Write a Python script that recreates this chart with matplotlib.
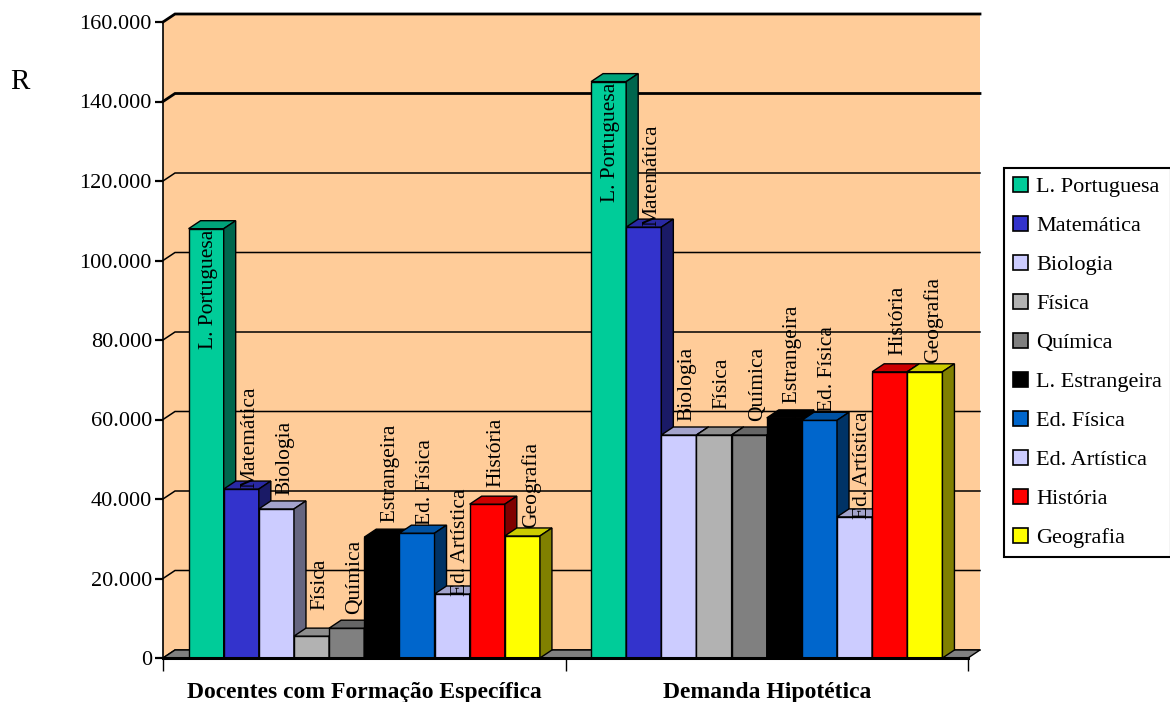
import matplotlib
matplotlib.use("Agg")
import matplotlib.pyplot as plt
from matplotlib.patches import Polygon, Patch
from matplotlib.ticker import FuncFormatter
import numpy as np

plt.rcParams["font.family"] = ["Liberation Serif", "DejaVu Serif"]

groups = ["Docentes com Formação Específica", "Demanda Hipotética"]
subjects = ["L. Portuguesa", "Matemática", "Biologia", "Física", "Química",
            "L. Estrangeira", "Ed. Física", "Ed. Artística", "História", "Geografia"]
docentes = [108000, 42500, 37500, 5500, 7500, 30400, 31400, 16100, 38700, 30700]
demanda = [145000, 108400, 56100, 56100, 56100, 60400, 59800, 35500, 72000, 72000]

colors = ["#00CC99", "#3333CC", "#CCCCFF", "#B2B2B2", "#808080",
          "#000000", "#0066CC", "#CCCCFF", "#FF0000", "#FFFF00"]

WALL = "#FFCC99"
FLOOR = "#808080"


def shade(c, k):
    r, g, b = matplotlib.colors.to_rgb(c)
    return (r * k, g * k, b * k)


W, H = 1170, 702
fig = plt.figure(figsize=(W / 100, H / 100), dpi=100, facecolor="white")
ax = fig.add_axes([163 / W, 44 / H, 805 / W, 636 / H])
ax.patch.set_visible(False)

xlim = (-0.5, 1.5)
ylim = (0, 160000)
ax.set_xlim(*xlim)
ax.set_ylim(*ylim)

# 3D depth offset in data units (12 px right, 8 px up)
px_x = 805 / (xlim[1] - xlim[0])
px_y = 636 / (ylim[1] - ylim[0])
dx = 12 / px_x
dy = 8 / px_y

# walls and floor
x0, x1 = xlim
top = ylim[1]
ax.add_patch(Polygon([(x0 + dx, dy), (x1 + dx, dy), (x1 + dx, top + dy), (x0 + dx, top + dy)],
                     facecolor=WALL, edgecolor="none", zorder=0, clip_on=False))
ax.add_patch(Polygon([(x0, 0), (x0 + dx, dy), (x0 + dx, top + dy), (x0, top)],
                     facecolor=WALL, edgecolor="none", zorder=0, clip_on=False))
for v in range(0, 160001, 20000):
    lw = 2.0 if v >= 140000 else 1.1
    ax.plot([x0, x0 + dx, x1 + dx], [v, v + dy, v + dy], color="black", lw=lw,
            zorder=1, clip_on=False, solid_joinstyle="miter")
ax.add_patch(Polygon([(x0, 0), (x1, 0), (x1 + dx, dy), (x0 + dx, dy)],
                     facecolor=FLOOR, edgecolor="black", lw=1.0, zorder=2, clip_on=False))

# bars
n = len(subjects)
w = 0.0873
z = 3
for g, vals in enumerate([docentes, demanda]):
    for i, (v, c) in enumerate(zip(vals, colors)):
        xl = g + (i - n / 2) * w
        xr = xl + w
        ax.add_patch(Polygon([(xl, 0), (xr, 0), (xr, v), (xl, v)],
                             facecolor=c, edgecolor="black", lw=1.0, zorder=z, clip_on=False))
        ax.add_patch(Polygon([(xl, v), (xr, v), (xr + dx, v + dy), (xl + dx, v + dy)],
                             facecolor=shade(c, 0.8), edgecolor="black", lw=1.0, zorder=z, clip_on=False))
        ax.add_patch(Polygon([(xr, 0), (xr + dx, dy), (xr + dx, v + dy), (xr, v)],
                             facecolor=shade(c, 0.5), edgecolor="black", lw=1.0, zorder=z, clip_on=False))
        z += 1

# rotated labels
for g, vals in enumerate([docentes, demanda]):
    for i, v in enumerate(vals):
        xc = g + (i - n / 2 + 0.5) * w
        off = (1.5, -44) if i == 0 else (6, 37)
        ax.annotate(subjects[i], (xc, v), xytext=off, textcoords="offset points",
                    rotation=90, ha="center", va="center", fontsize=15.5,
                    color="black", zorder=100, annotation_clip=False)

# axes styling
ax.spines["top"].set_visible(False)
ax.spines["right"].set_visible(False)
ax.spines["left"].set_linewidth(1.2)
ax.spines["left"].set_zorder(50)
ax.spines["bottom"].set_linewidth(2.2)
ax.spines["bottom"].set_zorder(50)

ax.set_yticks(np.arange(0, 160001, 20000))
ax.yaxis.set_major_formatter(FuncFormatter(lambda v, p: f"{v:,.0f}".replace(",", ".")))
ax.tick_params(axis="y", direction="out", length=6, width=1.6, pad=2, labelsize=16)

ax.set_xticks([0, 1])
ax.set_xticklabels(groups, fontsize=17, fontweight="bold")
ax.set_xticks([-0.5, 0.5, 1.5], minor=True)
ax.tick_params(axis="x", which="major", length=0, pad=17)
ax.tick_params(axis="x", which="minor", direction="out", length=9, width=1.0)

fig.text(20 / W, 1 - 82 / H, "R", fontsize=21, ha="center", va="center")

handles = [Patch(facecolor=c, edgecolor="black", lw=1.2) for c in colors]
leg = fig.legend(handles, subjects, loc="upper left",
                 bbox_to_anchor=(1004 / W, 1 - 168 / H), bbox_transform=fig.transFigure,
                 frameon=True, fancybox=False, framealpha=1, edgecolor="black",
                 fontsize=16, labelspacing=0.83, handlelength=0.7, handleheight=0.7,
                 handletextpad=0.35, borderpad=0.4, borderaxespad=0)
leg.get_frame().set_linewidth(1.5)

fig.savefig("out.png", dpi=100, facecolor="white")
